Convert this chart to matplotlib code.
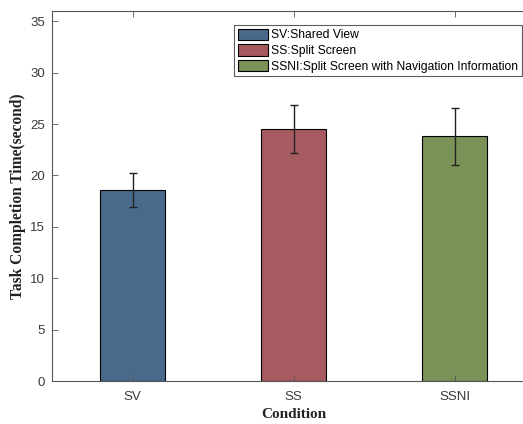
import matplotlib.pyplot as plt
import numpy as np

conditions = ["SV", "SS", "SSNI"]
means = [18.55, 24.5, 23.8]
errors = [1.65, 2.35, 2.8]
legend_labels = ["SV:Shared View", "SS:Split Screen",
                 "SSNI:Split Screen with Navigation Information"]
colors = ["#4a6a8b", "#a65b61", "#7a9158"]

fig = plt.figure(figsize=(5.23, 4.24), dpi=100)
ax = fig.add_axes([52 / 523, 43 / 424, 483 / 523, 370 / 424])

x = np.arange(1, len(conditions) + 1)
bars = ax.bar(x, means, width=0.4, color=colors, edgecolor="black", linewidth=0.8)
ax.errorbar(x, means, yerr=errors, fmt="none", ecolor="#222222", elinewidth=1,
            capsize=3, capthick=1)

ax.set_xlim(0.5, 3.5)
ax.set_ylim(0, 36)
ax.set_yticks(np.arange(0, 36, 5))
ax.set_xticks(x)
ax.set_xticklabels(conditions)

for s in ax.spines.values():
    s.set_color("#555555")
    s.set_linewidth(0.8)
ax.tick_params(direction="in", length=4, width=0.6, colors="#555555",
               labelcolor="#3a3a3a", labelsize=9.5, top=True, right=True)
ax.tick_params(axis="x", pad=7)
ax.tick_params(axis="y", pad=5)
for lab in ax.get_xticklabels() + ax.get_yticklabels():
    lab.set_family("Liberation Sans")

ax.set_xlabel("Condition", family="Liberation Serif", fontweight="bold",
              fontsize=11, color="#222222", labelpad=4)
ax.set_ylabel("Task Completion Time(second)", family="Liberation Serif",
              fontweight="bold", fontsize=11.2, color="#222222", labelpad=3)

leg = ax.legend(bars, legend_labels, loc="upper right",
                bbox_to_anchor=(522 / 523, 1 - 25 / 424),
                bbox_transform=fig.transFigure,
                prop={"family": "Liberation Sans", "size": 8.7},
                frameon=True, fancybox=False, borderaxespad=0,
                handlelength=2.5, handleheight=1.05, handletextpad=0.3,
                labelspacing=0.25, borderpad=0.3)
leg.get_frame().set_edgecolor("#333333")
leg.get_frame().set_linewidth(0.8)

fig.savefig("out.png", dpi=100)
